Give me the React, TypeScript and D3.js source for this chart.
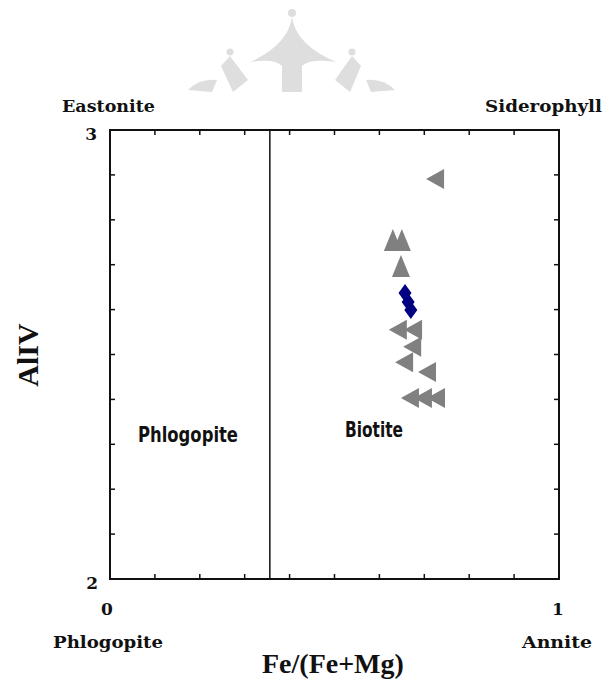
import * as d3 from "d3";

// Fe/(Fe+Mg) vs AlIV biotite classification
const leftTriX = [0.724, 0.641, 0.675, 0.673, 0.655, 0.706, 0.668, 0.697, 0.726];
const leftTriY = [2.891, 2.555, 2.555, 2.517, 2.483, 2.461, 2.403, 2.403, 2.403];
const upTriX = [0.63, 0.65, 0.648];
const upTriY = [2.753, 2.753, 2.695];
const diamondX = [0.657, 0.664, 0.67];
const diamondY = [2.637, 2.617, 2.599];

const divider = 0.356;
const xTicks = [0.1, 0.2, 0.3, 0.4, 0.5, 0.6, 0.7, 0.8, 0.9];
const yTicks = [2.1, 2.2, 2.3, 2.4, 2.5, 2.6, 2.7, 2.8, 2.9];

const x = d3.scaleLinear().domain([0, 1]).range([110, 559]);
const y = d3.scaleLinear().domain([2, 3]).range([579, 130]);

const triLeft = {
  draw(ctx: any) {
    ctx.moveTo(-9, 0);
    ctx.lineTo(9, -10);
    ctx.lineTo(9, 10);
    ctx.closePath();
  },
};
const triUp = {
  draw(ctx: any) {
    ctx.moveTo(0, -12);
    ctx.lineTo(9, 10);
    ctx.lineTo(-9, 10);
    ctx.closePath();
  },
};
const diamond = {
  draw(ctx: any) {
    ctx.moveTo(0, -9);
    ctx.lineTo(6.5, 0);
    ctx.lineTo(0, 9);
    ctx.lineTo(-6.5, 0);
    ctx.closePath();
  },
};

const serif = "DejaVu Serif";
const times = "Liberation Serif";
const cond = "DejaVu Sans Condensed";

function Watermark() {
  const c = "#dedede";
  return (
    <g fill={c}>
      <circle cx={292} cy={13} r={4} />
      <path d="M292,17 Q288,45 250,62 Q275,58 282,66 L282,92 L302,92 L302,66 Q310,58 336,62 Q296,45 292,17 Z" />
      <circle cx={230} cy={52} r={3.5} />
      <path d="M230,56 L221,66 L233,92 L248,80 Z" />
      <circle cx={352} cy={52} r={3.5} />
      <path d="M352,56 L361,66 L350,92 L335,80 Z" />
      <path d="M188,90 Q200,78 217,80 L212,92 Z" />
      <path d="M395,90 Q383,78 366,80 L371,92 Z" />
    </g>
  );
}

export default function App() {
  const sym = d3.symbol();
  return (
    <svg
      width={605}
      height={680}
      style={{ position: "absolute", left: 0, top: 0, background: "#fff" }}
    >
      <Watermark />
      {/* frame */}
      <rect x={x(0)} y={y(3)} width={x(1) - x(0)} height={y(2) - y(3)} fill="none" stroke="#111" strokeWidth={2} />
      <line x1={x(divider)} x2={x(divider)} y1={y(2)} y2={y(3)} stroke="#111" strokeWidth={1.5} />
      {xTicks.map((t) => (
        <g key={"x" + t} stroke="#111" strokeWidth={1.5}>
          <line x1={x(t)} x2={x(t)} y1={y(3)} y2={y(3) + 5} />
          <line x1={x(t)} x2={x(t)} y1={y(2)} y2={y(2) - 5} />
        </g>
      ))}
      {yTicks.map((t) => (
        <g key={"y" + t} stroke="#111" strokeWidth={1.5}>
          <line x1={x(0)} x2={x(0) + 5} y1={y(t)} y2={y(t)} />
          <line x1={x(1)} x2={x(1) - 5} y1={y(t)} y2={y(t)} />
        </g>
      ))}

      {/* tick labels */}
      <g fontFamily={serif} fontWeight="bold" fontSize={17} fill="#111">
        <text x={x(0) - 13} y={y(3) + 10} textAnchor="end">3</text>
        <text x={x(0) - 12} y={y(2) + 10} textAnchor="end">2</text>
        <text x={x(0) - 3} y={y(2) + 36} textAnchor="middle">0</text>
        <text x={x(1) - 1} y={y(2) + 36} textAnchor="middle">1</text>
        <text x={62} y={112} textLength={93} lengthAdjust="spacingAndGlyphs">Eastonite</text>
        <text x={485} y={112} textLength={117} lengthAdjust="spacingAndGlyphs">Siderophyll</text>
        <text x={53} y={648} textLength={110} lengthAdjust="spacingAndGlyphs">Phlogopite</text>
        <text x={522} y={648} textLength={70} lengthAdjust="spacingAndGlyphs">Annite</text>
      </g>

      {/* axis titles */}
      <text x={262} y={673} fontFamily={times} fontWeight="bold" fontSize={28} fill="#111">
        Fe/(Fe+Mg)
      </text>
      <text
        transform="translate(38,355) rotate(-90)"
        textAnchor="middle"
        fontFamily={times}
        fontWeight="bold"
        fontSize={30}
        fill="#111"
      >
        AlIV
      </text>

      {/* field labels */}
      <g fontFamily={cond} fontWeight="bold" fontSize={22} fill="#111">
        <text x={138} y={442} textLength={100} lengthAdjust="spacingAndGlyphs">Phlogopite</text>
        <text x={345} y={437} textLength={58} lengthAdjust="spacingAndGlyphs">Biotite</text>
      </g>

      {/* samples */}
      {upTriX.map((v, i) => (
        <path key={"u" + i} transform={`translate(${x(v)},${y(upTriY[i])})`} d={sym.type(triUp as any)() as string} fill="#808080" />
      ))}
      {leftTriX.map((v, i) => (
        <path key={"l" + i} transform={`translate(${x(v)},${y(leftTriY[i])})`} d={sym.type(triLeft as any)() as string} fill="#808080" />
      ))}
      {diamondX.map((v, i) => (
        <path key={"d" + i} transform={`translate(${x(v)},${y(diamondY[i])})`} d={sym.type(diamond as any)() as string} fill="#000080" />
      ))}
    </svg>
  );
}
